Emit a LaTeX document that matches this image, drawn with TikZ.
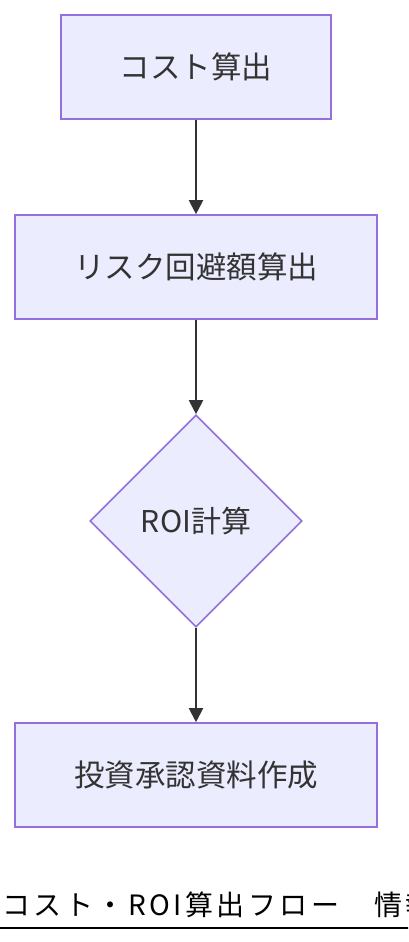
\documentclass[tikz,border=0pt]{standalone}
\usepackage{fontspec}
\newfontfamily\jpfont{Noto Sans CJK JP}
\newfontfamily\titlefont[LetterSpace=12.5]{Noto Sans CJK JP}
\usetikzlibrary{arrows.meta,shapes.geometric}
\definecolor{boxfill}{HTML}{ECECFF}
\definecolor{boxline}{HTML}{9370DB}
\definecolor{ink}{HTML}{333333}

\begin{document}
\begin{tikzpicture}[x=1pt, y=-1pt,
        proc/.style={rectangle, draw=boxline, fill=boxfill, line width=1.6pt, minimum height=104pt, text=ink, font=\jpfont\fontsize{30.5}{34}\selectfont},
        decide/.style={diamond, aspect=1, draw=boxline, fill=boxfill, line width=1.6pt, minimum width=212pt, minimum height=212pt, inner sep=0pt, text=ink, font=\jpfont\fontsize{30}{34}\selectfont},
        flow/.style={draw=ink, line width=2pt, -{Triangle[length=14pt, width=14pt]}}]
        \useasboundingbox (0,0) rectangle (408,942);
        \clip (0,0) rectangle (408,942);

        \node[proc, minimum width=270pt] (cost) at (196, 67) {コスト算出};
        \node[proc, minimum width=362pt] (risk) at (196, 267) {リスク回避額算出};
        \node[decide] (roi) at (196, 521) {ROI計算};
        \node[proc, minimum width=362pt] (doc) at (196, 775) {投資承認資料作成};

        \node[anchor=base west, inner sep=0pt, font=\titlefont\fontsize{28}{32}\selectfont] (title) at (2, 915) {コスト・ROI算出フロー　情報};

        \draw (cost) edge[flow] (risk)
              (risk) edge[flow] (roi)
              (roi) edge[flow] (doc);
        \draw[line width=2pt] ([xshift=-2pt, yshift=-13pt]title.base west) -- ([xshift=40pt, yshift=-13pt]title.base east);
    \end{tikzpicture}
\end{document}
